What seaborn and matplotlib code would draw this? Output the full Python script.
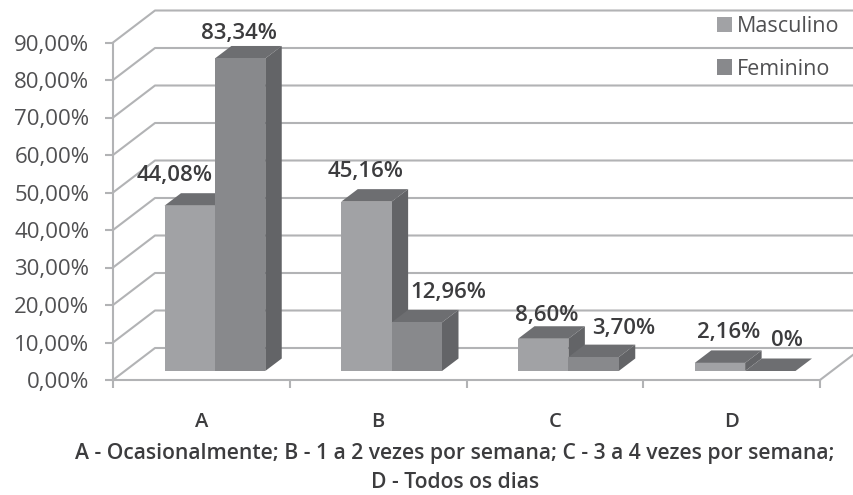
#Grafico de barras com falso 3D: Masculino x Feminino
import matplotlib
matplotlib.use('Agg')
import matplotlib.pyplot as plt
from matplotlib.patches import Polygon
from matplotlib.transforms import Affine2D
import pandas as pd
import seaborn as sns

#Dados
categorias = ['A', 'B', 'C', 'D']
masculino = [44.08, 45.16, 8.60, 2.16]
feminino = [83.34, 12.96, 3.70, 0]
rotulos_masc = ['44,08%', '45,16%', '8,60%', '2,16%']
rotulos_fem = ['83,34%', '12,96%', '3,70%', '0%']
ticks_y = [0, 10, 20, 30, 40, 50, 60, 70, 80, 90]
ticks_y_txt = ['0,00%', '10,00%', '20,00%', '30,00%', '40,00%', '50,00%', '60,00%', '70,00%', '80,00%', '90,00%']
legenda = ['Masculino', 'Feminino']
legenda_rodape = 'A - Ocasionalmente; B - 1 a 2 vezes por semana; C - 3 a 4 vezes por semana;\nD - Todos os dias'

Base = pd.DataFrame({
    'Categoria': categorias * 2,
    'Valor': masculino + feminino,
    'Sexo': [legenda[0]] * 4 + [legenda[1]] * 4,
})

#Cores
Cor_Grade = '#b2b3b5'
Cor_Texto = '#3c3c3e'
Cor_Masc = '#a1a2a5'
Cor_Fem = '#88898c'
Cor_Topo = '#6d6e71'
Cor_Lado = '#636467'

sns.set_theme(style='white')
plt.rcParams['font.family'] = ['Open Sans', 'DejaVu Sans']

fig = plt.figure(figsize=(8.54, 4.95), dpi=100, facecolor='white')
ax = fig.add_axes([113 / 854, 115 / 495, 707 / 854, 337.5 / 495])

sns.barplot(data=Base, x='Categoria', y='Valor', hue='Sexo', order=categorias, hue_order=legenda,
            palette=[Cor_Masc, Cor_Fem], width=0.57, saturation=1, linewidth=0, ax=ax, zorder=3)
ax.set_xlim(-0.5, 3.5)
ax.set_ylim(0, 90)
ax.set_xlabel('')
ax.set_ylabel('')

#Deslocamentos em pixels: parede do fundo, frente da barra e profundidade da barra
Fundo = ax.transData + Affine2D().translate(42, 32)
Frente = ax.transData + Affine2D().translate(13.5, 9)
Prof_X, Prof_Y = 16.5, 12.5

#Grade: parede lateral e parede do fundo
for v in ticks_y:
    x0, y0 = ax.transData.transform((-0.5, v))
    x1, y1 = Fundo.transform((-0.5, v))
    x2, y2 = Fundo.transform((3.5, v))
    fig.add_artist(plt.Line2D([x0, x1, x2], [y0, y1, y2], transform=None, color=Cor_Grade, lw=1.5, zorder=0))
    ax.set_zorder(1)
ax.patch.set_visible(False)

#Chao do lado direito
x0, y0 = ax.transData.transform((3.5, 0))
x1, y1 = Fundo.transform((3.5, 0))
fig.add_artist(plt.Line2D([x0, x1], [y0, y1], transform=None, color=Cor_Grade, lw=1.5, zorder=0))

#Topo e lateral de cada barra
ordem = 3
for cont in ax.containers:
    for barra in cont:
        barra.set_transform(Frente)
        barra.set_zorder(ordem + 0.2)
        x, w, h = barra.get_x(), barra.get_width(), barra.get_height()
        (xe, yb) = Frente.transform((x, 0))
        (xd, yt) = Frente.transform((x + w, h))
        topo = Polygon([(xe, yt), (xd, yt), (xd + Prof_X, yt + Prof_Y), (xe + Prof_X, yt + Prof_Y)],
                       transform=None, color=Cor_Topo, lw=0, clip_on=False, zorder=ordem + 0.1)
        lado = Polygon([(xd, yb), (xd + Prof_X, yb + Prof_Y), (xd + Prof_X, yt + Prof_Y), (xd, yt)],
                       transform=None, color=Cor_Lado, lw=0, clip_on=False, zorder=ordem + 0.1)
        ax.add_artist(topo)
        ax.add_artist(lado)
    ordem += 1

#Rotulos (deslocamento manual em pixels, como no original)
desloc_masc = [(-15, 30), (-1, 30), (3, 23), (9, 30)]
desloc_fem = [(-1, 25), (32, 30), (30, 29), (17, 31)]
for cont, rotulos, desloc in zip(ax.containers, [rotulos_masc, rotulos_fem], [desloc_masc, desloc_fem]):
    for barra, txt, d in zip(cont, rotulos, desloc):
        px, py = Frente.transform((barra.get_x() + barra.get_width() / 2, barra.get_height()))
        fig.text((px + d[0]) / 854, (py + d[1]) / 495, txt, ha='center', va='center',
                 fontsize=16, fontweight='semibold', color=Cor_Texto, zorder=10)

#Eixos
sns.despine(ax=ax, top=True, right=True)
ax.spines['left'].set_color(Cor_Grade)
ax.spines['bottom'].set_color(Cor_Grade)
ax.spines['left'].set_linewidth(1.5)
ax.spines['bottom'].set_linewidth(1.5)
ax.set_yticks(ticks_y)
ax.set_yticklabels(ticks_y_txt)
ax.tick_params(axis='y', length=6, width=1.5, color=Cor_Grade, labelcolor='#505052', labelsize=16, pad=11, left=True)
ax.set_xticks([-0.5, 0.5, 1.5, 2.5, 3.5], minor=True)
ax.tick_params(axis='x', which='minor', length=6, width=1.5, color=Cor_Grade, bottom=True)
ax.tick_params(axis='x', which='major', length=0, labelcolor=Cor_Texto, labelsize=14.5, pad=23)
for t in ax.get_xticklabels():
    t.set_fontweight('semibold')

#Legenda
mao = [c[0] for c in ax.containers]
ax.legend(mao, legenda, loc='upper left', bbox_to_anchor=(717 / 854, 1 - 16 / 495), bbox_transform=fig.transFigure,
          frameon=False, fontsize=15.5, labelcolor='#505052', handlelength=0.7, handleheight=0.7,
          handletextpad=0.22, labelspacing=1.0, borderpad=0, borderaxespad=0)

#Rodape
fig.text(455 / 854, 1 - 468 / 495, legenda_rodape, ha='center', va='center', fontsize=15.2,
         fontweight='semibold', color=Cor_Texto, linespacing=1.45)

fig.savefig('out.png', dpi=100)
